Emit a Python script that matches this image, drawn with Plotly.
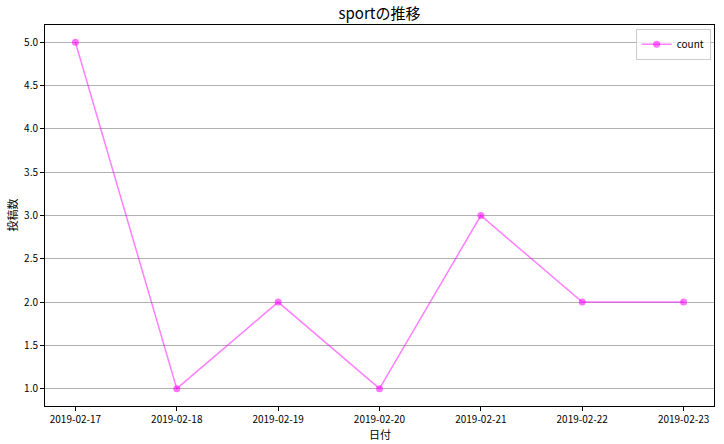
import plotly.graph_objects as go

dates = ["2019-02-17", "2019-02-18", "2019-02-19", "2019-02-20", "2019-02-21", "2019-02-22", "2019-02-23"]
counts = [5, 1, 2, 1, 3, 2, 2]
y_ticks = [1.0, 1.5, 2.0, 2.5, 3.0, 3.5, 4.0, 4.5, 5.0]

FONT = "Noto Sans CJK JP"

fig = go.Figure()
fig.add_trace(go.Scatter(
    x=dates, y=counts, mode="lines+markers", name="count",
    line=dict(color="rgba(255,0,255,0.5)", width=1.5),
    marker=dict(color="rgba(255,0,255,0.55)", size=7),
))

fig.update_layout(
    width=724, height=444,
    margin=dict(l=45, r=10, t=25, b=38, autoexpand=False),
    paper_bgcolor="white", plot_bgcolor="white",
    font=dict(family=FONT, size=10, color="black"),
    title=dict(text="sportの推移", x=0.5, xanchor="center", xref="paper",
               y=0.968, yanchor="middle", yref="container", automargin=False,
               font=dict(family=FONT, size=15, color="black")),
    showlegend=True,
    legend=dict(x=0.995, y=0.99, xanchor="right", yanchor="top",
                bgcolor="rgba(255,255,255,0.8)", bordercolor="#cccccc", borderwidth=1,
                itemwidth=30, tracegroupgap=0,
                font=dict(family=FONT, size=10)),
    xaxis=dict(
        type="date", range=["2019-02-16 16:48", "2019-02-23 07:12"],
        tickvals=dates, ticktext=dates, automargin=False,
        showgrid=False, zeroline=False,
        showline=True, linecolor="black", linewidth=1, mirror=True,
        ticks="outside", ticklen=4, tickcolor="black",
    ),
    yaxis=dict(
        range=[0.8, 5.2], tickvals=y_ticks, ticktext=[f"{v:.1f}" for v in y_ticks],
        automargin=False,
        showgrid=True, gridcolor="#b0b0b0", gridwidth=1, zeroline=False,
        showline=True, linecolor="black", linewidth=1, mirror=True,
        ticks="outside", ticklen=4, tickcolor="black",
    ),
    annotations=[
        dict(text="日付", x=0.5, y=0, xref="paper", yref="paper",
             xanchor="center", yanchor="middle", yshift=-28, showarrow=False,
             font=dict(family=FONT, size=11)),
        dict(text="投稿数", x=0, y=0.5, xref="paper", yref="paper",
             xanchor="center", yanchor="middle", xshift=-34, textangle=-90,
             showarrow=False, font=dict(family=FONT, size=11)),
    ],
)

fig.write_html("out.html", config={"displayModeBar": False},
               post_script="document.body.style.margin='0';")
